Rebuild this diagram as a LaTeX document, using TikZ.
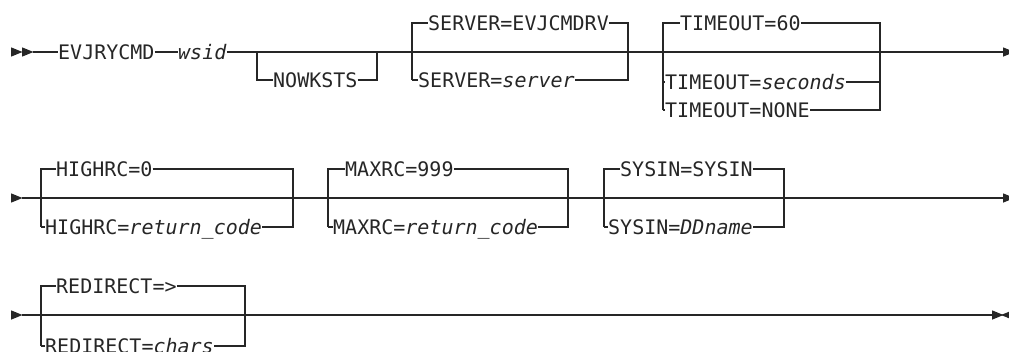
\documentclass[tikz,border=0pt]{standalone}
\usepackage{fontspec}
\newfontfamily\railfont{DejaVu Sans Mono}
\usetikzlibrary{positioning}
\definecolor{railink}{HTML}{262626}

\begin{document}
\begin{tikzpicture}[x=1pt,y=-1pt,
    kw/.style={font=\railfont\fontsize{20}{24}\selectfont,text=railink,inner xsep=0pt,inner ysep=0pt,
               text height=14.5pt,text depth=0pt,anchor=west},
    rail/.style={draw=railink,line width=1.1pt},
    railtip/.pic={\fill[railink] (0,-4.7) -- (11.5,0) -- (0,4.7) -- cycle;},
    railstop/.pic={\fill[railink] (11.5,-4.7) -- (0,0) -- (11.5,4.7) -- cycle;}]

    \useasboundingbox (0,0) rectangle (1009,351);

    % row 1
    \node[kw] (evj) at (58,52) {EVJRYCMD};
    \node[kw] (wsid) at (178,52) {\textit{wsid}};
    \node[kw] (nowk) at (273,80) {NOWKSTS};
    \node[kw] (srvdef) at (428,23) {SERVER=EVJCMDRV};
    \node[kw] (srvvar) at (418,80) {SERVER=\textit{server}};
    \node[kw] (tdef) at (680,23) {TIMEOUT=60};
    \node[kw] (tsec) at (665,82) {TIMEOUT=\textit{seconds}};
    \node[kw] (tnone) at (665,110) {TIMEOUT=NONE};

    \coordinate (in1) at (33,52);
    \coordinate (out1) at (1003,52);
    \coordinate (n1) at (257,52);  \coordinate (n2) at (257,80);
    \coordinate (n3) at (377,80);  \coordinate (n4) at (377,52);
    \coordinate (s1) at (412,23);  \coordinate (s2) at (412,80);
    \coordinate (s3) at (628,23);  \coordinate (s4) at (628,80);
    \coordinate (t1) at (663,23);  \coordinate (t2) at (663,110);
    \coordinate (t3) at (880,23);  \coordinate (t4) at (880,110);
    \coordinate (t5) at (663,82);  \coordinate (t6) at (880,82);

    \pic at (11,52) {railtip};
    \pic at (22,52) {railtip};
    \draw[rail] (in1) -- (evj) (evj) -- (wsid) (wsid) -- (out1);
    \pic at (out1) {railtip};
    \draw[rail] (n1) -- (n2) -- (nowk) (nowk) -- (n3) -- (n4);
    \draw[rail] (s2) -- (s1) -- (srvdef) (srvdef) -- (s3) -- (s4) -- (srvvar) (srvvar) -- (s2);
    \draw[rail] (t2) -- (t1) -- (tdef) (tdef) -- (t3) -- (t4) -- (tnone) (tnone) -- (t2);
    \draw[rail] (t5) -- (tsec) (tsec) -- (t6);

    % row 2
    \node[kw] (hdef) at (56,169) {HIGHRC=0};
    \node[kw] (hvar) at (45,227) {HIGHRC=\textit{return\_code}};
    \node[kw] (mdef) at (345,169) {MAXRC=999};
    \node[kw] (mvar) at (333,227) {MAXRC=\textit{return\_code}};
    \node[kw] (sdef) at (620,169) {SYSIN=SYSIN};
    \node[kw] (svar) at (608,227) {SYSIN=\textit{DDname}};

    \coordinate (in2) at (22,198);
    \coordinate (out2) at (1003,198);
    \coordinate (h1) at (41,169);  \coordinate (h2) at (41,227);
    \coordinate (h3) at (293,169); \coordinate (h4) at (293,227);
    \coordinate (m1) at (328,169); \coordinate (m2) at (328,227);
    \coordinate (m3) at (568,169); \coordinate (m4) at (568,227);
    \coordinate (y1) at (604,169); \coordinate (y2) at (604,227);
    \coordinate (y3) at (784,169); \coordinate (y4) at (784,227);

    \pic at (11,198) {railtip};
    \draw[rail] (in2) -- (out2);
    \pic at (out2) {railtip};
    \draw[rail] (h2) -- (h1) -- (hdef) (hdef) -- (h3) -- (h4) -- (hvar) (hvar) -- (h2);
    \draw[rail] (m2) -- (m1) -- (mdef) (mdef) -- (m3) -- (m4) -- (mvar) (mvar) -- (m2);
    \draw[rail] (y2) -- (y1) -- (sdef) (sdef) -- (y3) -- (y4) -- (svar) (svar) -- (y2);

    % row 3
    \node[kw] (rdef) at (56,286) {REDIRECT=>};
    \node[kw] (rvar) at (45,346) {REDIRECT=\textit{chars}};

    \coordinate (in3) at (22,315);
    \coordinate (out3) at (992,315);
    \coordinate (r1) at (41,286);  \coordinate (r2) at (41,346);
    \coordinate (r3) at (245,286); \coordinate (r4) at (245,346);
    \coordinate (d1) at (250,315); \coordinate (d2) at (273,315);

    \pic at (11,315) {railtip};
    \draw[rail] (in3) -- (out3);
    \pic at (out3) {railtip};
    \pic at (1001,315) {railstop};
    \draw[rail] (r2) -- (r1) -- (rdef) (rdef) -- (r3) -- (r4) -- (rvar) (rvar) -- (r2);
    \draw[railink,line width=2pt] (d1) -- (d2);

\end{tikzpicture}
\end{document}
